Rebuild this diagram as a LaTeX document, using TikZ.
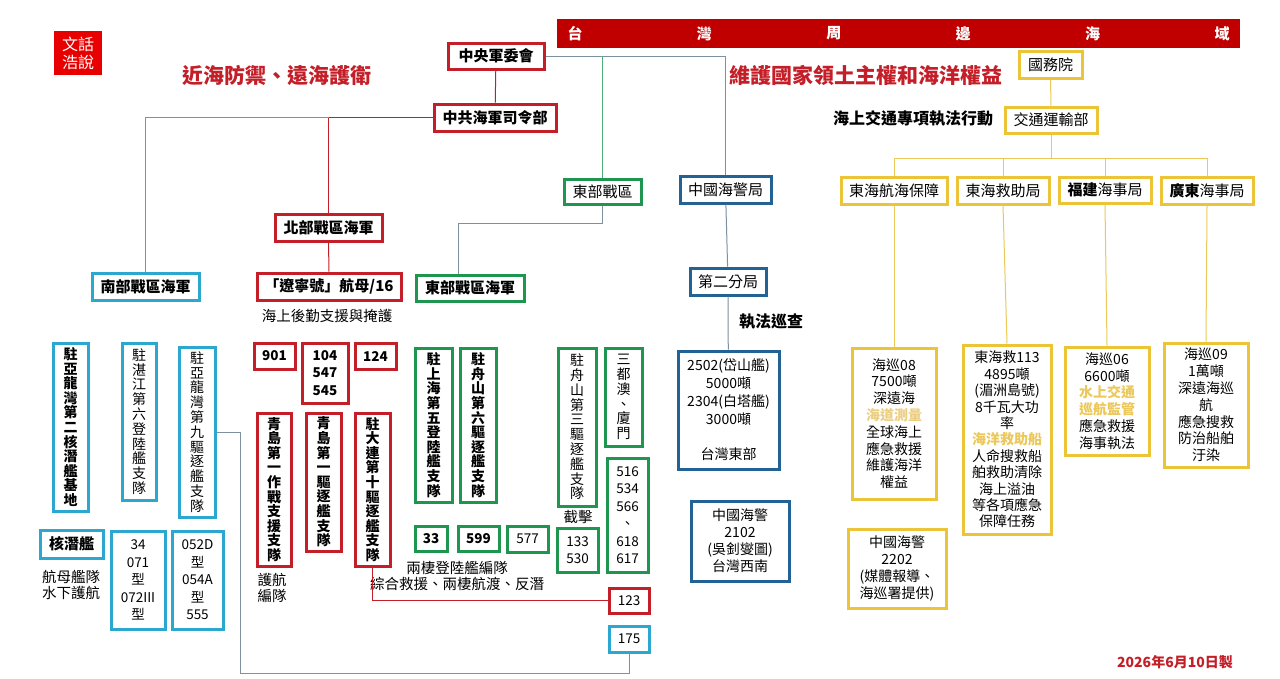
\documentclass[tikz,border=0pt]{standalone}
\usepackage{fontspec}
\setmainfont{Noto Sans CJK TC}
\usetikzlibrary{positioning}
\definecolor{cred}{RGB}{196,30,40}
\definecolor{bannerred}{RGB}{192,0,0}
\definecolor{logored}{RGB}{232,0,0}
\definecolor{ccyan}{RGB}{44,168,208}
\definecolor{cgreen}{RGB}{30,150,80}
\definecolor{cblue}{RGB}{34,98,148}
\definecolor{cyellow}{RGB}{236,196,56}
\definecolor{lgray}{RGB}{125,145,160}
\definecolor{lgreen}{RGB}{80,175,120}
\definecolor{lyellow}{RGB}{236,200,90}
\definecolor{paleyellow}{RGB}{236,206,130}
\newcommand{\fsz}[2]{\fontsize{#1}{#2}\selectfont}

\begin{document}
\begin{tikzpicture}[
  x=1pt, y=-1pt,
  box/.style={draw, line width=3pt, fill=white, inner sep=1pt, align=center, font=\fsz{15}{17}},
  rbox/.style={box, draw=cred},
  cbox/.style={box, draw=ccyan},
  gbox/.style={box, draw=cgreen},
  bbox/.style={box, draw=cblue},
  ybox/.style={box, draw=cyellow},
  sz/.style 2 args={minimum width=#1, minimum height=#2},
  strong/.style={font=\bfseries\fsz{15}{17}},
  vtxt/.style={font=\fsz{14}{14.8}},
  vbold/.style={font=\bfseries\fsz{14}{14.6}},
  nums/.style={font=\fsz{13.5}{17.5}},
  detail/.style={font=\fsz{14}{16.8}},
  note/.style={align=center, font=\fsz{14.5}{16.5}},
  link/.style={line width=1pt}
]
  \useasboundingbox[fill=white] (0,0) rectangle (1280,678);

  % -- headings --
  \node[fill=logored, text=white, sz={48}{44}, align=center, font=\fsz{16}{18}] (logo) at (78,53) {文話\\浩說};
  \node[text=cred, font=\bfseries\fsz{21}{21}] (title1) at (277,75) {近海防禦、遠海護衛};
  \node[text=cred, font=\bfseries\fsz{21}{21}] (title2) at (866,75) {維護國家領土主權和海洋權益};
  \node[fill=bannerred, sz={683}{29}, inner sep=0] (banner) at (898.5,33.5) {};
  \foreach \c [count=\i] in {台,灣,周,邊,海,域}
    \node[text=white, font=\bfseries\fsz{15}{15}] (bn\i) at ({575+129.4*(\i-1)},33.5) {\c};

  % -- navy command chain --
  \node[rbox, sz={96}{26}, strong] (cmc) at (496,56) {中央軍委會};
  \node[rbox, sz={122}{27}, strong] (hq) at (495,117.5) {中共海軍司令部};
  \node[rbox, sz={107}{27}, strong] (north) at (328.5,227.5) {北部戰區海軍};
  \node[rbox, sz={144}{27}, strong] (liaoning) at (329,286.5) {「遼寧號」航母/16};
  \node[note] (support) at (327,316) {海上後勤支援與掩護};
  \node[cbox, sz={107}{27}, strong] (south) at (145.5,286.5) {南部戰區海軍};
  \node[gbox, sz={77}{25}] (etc) at (602.5,191.5) {東部戰區};
  \node[gbox, sz={108}{26}, strong] (etn) at (470,288) {東部戰區海軍};

  % -- southern theatre --
  \node[cbox, sz={35}{168}, vbold] (v1) at (70.5,427) {駐\\亞\\龍\\灣\\第\\二\\核\\潛\\艦\\基\\地};
  \node[cbox, sz={34}{157}, vtxt] (v2) at (139,421.5) {駐\\湛\\江\\第\\六\\登\\陸\\艦\\支\\隊};
  \node[cbox, sz={36}{170}, vtxt] (v3) at (197,432) {駐\\亞\\龍\\灣\\第\\九\\驅\\逐\\艦\\支\\隊};
  \node[cbox, sz={63}{28}, strong] (ssn) at (71.5,544) {核潛艦};
  \node[note] (ssnnote) at (71,585) {航母艦隊\\水下護航};
  \node[cbox, sz={54}{98}, nums] (s34) at (138,580) {34\\071\\型\\072III\\型};
  \node[cbox, sz={51}{98}, nums] (s052) at (197.5,580) {052D\\型\\054A\\型\\555};
  \node[cbox, sz={40}{26}, nums] (s175) at (629,639) {175};

  % -- northern theatre --
  \node[rbox, sz={41}{26}, nums, font=\bfseries\fsz{13.5}{17.5}] (s901) at (274.5,356) {901};
  \node[rbox, sz={46}{60}, nums, font=\bfseries\fsz{13.5}{17.5}] (s104) at (325,373) {104\\547\\545};
  \node[rbox, sz={41}{26}, nums, font=\bfseries\fsz{13.5}{17.5}] (s124) at (375.5,356) {124};
  \node[rbox, sz={34}{153}, vbold] (r1) at (274,489.5) {青\\島\\第\\一\\作\\戰\\支\\援\\支\\隊};
  \node[rbox, sz={35}{138}, vbold] (r2) at (323.5,482) {青\\島\\第\\一\\驅\\逐\\艦\\支\\隊};
  \node[rbox, sz={35}{153}, vbold] (r3) at (372.5,489.5) {駐\\大\\連\\第\\十\\驅\\逐\\艦\\支\\隊};
  \node[note] (escort) at (272,588) {護航\\編隊};
  \node[rbox, sz={40}{25}, nums] (s123) at (629,600.5) {123};

  % -- eastern theatre --
  \node[gbox, sz={37}{154}, vbold] (g1) at (433.5,425) {駐\\上\\海\\第\\五\\登\\陸\\艦\\支\\隊};
  \node[gbox, sz={36}{154}, vbold] (g2) at (478,425) {駐\\舟\\山\\第\\六\\驅\\逐\\艦\\支\\隊};
  \node[gbox, sz={38}{158}, vtxt] (g3) at (577,427) {駐\\舟\\山\\第\\三\\驅\\逐\\艦\\支\\隊};
  \node[gbox, sz={37}{98}, vtxt] (g4) at (623.5,397) {三\\都\\澳\\、\\廈\\門};
  \node[note] (intercept) at (578,517) {截擊};
  \node[gbox, sz={32}{25}, font=\bfseries\fsz{13.5}{17.5}] (s33) at (431,538.5) {33};
  \node[gbox, sz={41}{25}, font=\bfseries\fsz{13.5}{17.5}] (s599) at (478.5,538.5) {599};
  \node[gbox, sz={41}{26}, nums] (s577) at (527.5,539) {577};
  \node[gbox, sz={41}{44}, nums] (s133) at (577.5,550) {133\\530};
  \node[gbox, sz={41}{114}, nums] (s516) at (627.5,515) {516\\534\\566\\、\\618\\617};
  \node[note] (amphib) at (457,576) {兩棲登陸艦編隊\\綜合救援、兩棲航渡、反潛};

  % -- coast guard --
  \node[bbox, sz={91}{27}] (ccg) at (725.5,189.5) {中國海警局};
  \node[bbox, sz={76}{27}] (br2) at (728,281.5) {第二分局};
  \node[font=\bfseries\fsz{16}{16}] (patrol) at (771,322) {執法巡查};
  \node[bbox, sz={101}{118}, font=\fsz{14}{18}] (cg2502) at (728.5,410) {2502(岱山艦)\\5000噸\\2304(白塔艦)\\3000噸\\[17pt]台灣東部};
  \node[bbox, sz={98}{80}, font=\fsz{14}{17}] (cg2102) at (740,541) {中國海警\\2102\\(吳釗燮圖)\\台灣西南};

  % -- transport ministry --
  \node[ybox, sz={63}{27}] (gwy) at (1050.5,64.5) {國務院};
  \node[ybox, sz={92}{26}] (jtb) at (1051,120) {交通運輸部};
  \node[font=\bfseries\fsz{16}{16}] (action) at (913,118) {海上交通專項執法行動};
  \node[ybox, sz={106}{27}] (mb1) at (894,190.5) {東海航海保障};
  \node[ybox, sz={92}{27}] (mb2) at (1003,190.5) {東海救助局};
  \node[ybox, sz={92}{26}] (mb3) at (1105,190) {\textbf{福建}海事局};
  \node[ybox, sz={92}{27}] (mb4) at (1207,190.5) {\textbf{廣東}海事局};
  \node[ybox, sz={84}{151}, detail] (dt1) at (894,423.5) {海巡08\\7500噸\\深遠海\\\textcolor{paleyellow}{\textbf{海道測量}}\\全球海上\\應急救援\\維護海洋\\權益};
  \node[ybox, sz={88}{189}, detail, font=\fsz{14}{16.4}] (dt2) at (1007,439.5) {東海救113\\4895噸\\(湄洲島號)\\8千瓦大功\\率\\\textcolor{lyellow}{\textbf{海洋救助船}}\\人命搜救船\\舶救助清除\\海上溢油\\等各項應急\\保障任務};
  \node[ybox, sz={84}{108}, detail] (dt3) at (1107,401) {海巡06\\6600噸\\\textcolor{lyellow}{\textbf{水上交通}}\\\textcolor{lyellow}{\textbf{巡航監管}}\\應急救援\\海事執法};
  \node[ybox, sz={84}{124}, detail] (dt4) at (1206,405) {海巡09\\1萬噸\\深遠海巡\\航\\應急搜救\\防治船舶\\汙染};
  \node[ybox, sz={98}{79}, detail] (dt5) at (897,568.5) {中國海警\\2202\\(媒體報導、\\海巡署提供)};
  \node[text=cred, font=\bfseries\fsz{14}{14}] (date) at (1175,662) {2026年6月10日製};

  % -- connectors --
  \draw[link, cred] (cmc) -- (hq);
  \draw[link, cred] (hq.west) -| (north.north);
  \draw[link, lgray] (hq.west -| north.north) -| (south.north);
  \draw[link, cred] (north) -- (liaoning);
  \draw[link, lgray] (cmc.east) -| (ccg.north);
  \draw[link, lgreen] (cmc.east -| etc.north) -- (etc.north);
  \coordinate (etbend) at (458,223);
  \draw[link, lgray] (etc.south) |- (etbend) -- (etbend |- etn.north);
  \draw[link, lgray] (ccg) -- (br2);
  \draw[link, lgray] (br2) -- (cg2502);
  \coordinate (loop) at (240,673);
  \draw[link, lgray] (v3.east) -| (loop) -| (s175.south);
  \draw[link, cred] (r3.south) |- (s123.west);
  \draw[link, lyellow] (gwy) -- (jtb);
  \coordinate (bus) at (1057,158);
  \draw[link, lyellow] (jtb.south) -- (jtb.south |- bus);
  \draw[link, lyellow] (mb1.north |- bus) -- (mb4.north |- bus);
  \foreach \i in {1,...,4} {
    \draw[link, lyellow] (mb\i.north |- bus) -- (mb\i.north);
    \draw[link, lyellow] (mb\i.south) -- (dt\i.north);
  }
\end{tikzpicture}
\end{document}
